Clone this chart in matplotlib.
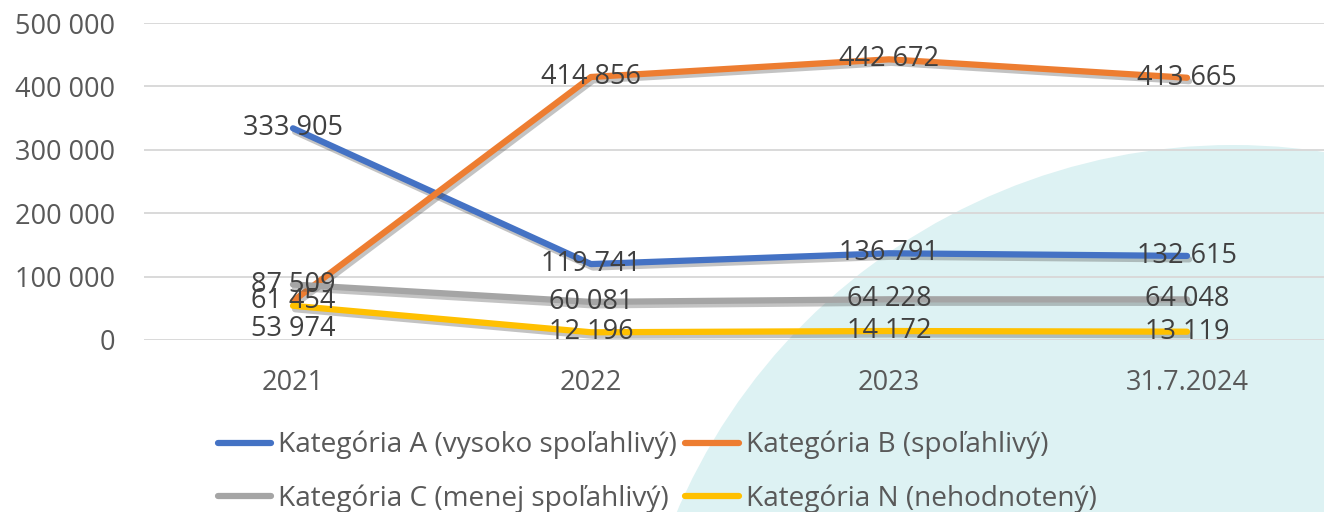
import matplotlib
matplotlib.use("Agg")
import matplotlib.pyplot as plt
import matplotlib.patheffects as pe
from matplotlib.patches import Ellipse

plt.rcParams['font.family'] = ['Open Sans', 'DejaVu Sans']

periods = ["2021", "2022", "2023", "31.7.2024"]
cat_a = [333905, 119741, 136791, 132615]
cat_b = [61454, 414856, 442672, 413665]
cat_c = [87509, 60081, 64228, 64048]
cat_n = [53974, 12196, 14172, 13119]
names = ["Kategória A (vysoko spoľahlivý)", "Kategória B (spoľahlivý)",
         "Kategória C (menej spoľahlivý)", "Kategória N (nehodnotený)"]
colors = ["#4472C4", "#ED7D31", "#A5A5A5", "#FFC000"]
series = [cat_a, cat_b, cat_c, cat_n]

W, H = 1324, 512
fig = plt.figure(figsize=(W / 100, H / 100), dpi=100)

# decorative circle in background
circ = Ellipse((1233 / W, -238 / H), 1210 / W, 1210 / H, transform=fig.transFigure,
               facecolor="#DDF2F3", edgecolor="none", zorder=-5)
fig.patches.append(circ)

ax = fig.add_axes([144 / W, 1 - 340 / H, (1336 - 144) / W, (340 - 23) / H])
ax.set_facecolor("none")
ax.set_zorder(1)
x = list(range(len(periods)))

shadow = [pe.SimpleLineShadow(offset=(1.5, -2.5), shadow_color="#555555", alpha=0.35),
          pe.Normal()]
lines = []
for vals, name, col in zip(series, names, colors):
    ln, = ax.plot(x, vals, color=col, lw=4.5, solid_capstyle="round", solid_joinstyle="round",
                  label=name, path_effects=shadow, zorder=3)
    lines.append(ln)

label_offsets = {(3, 0): -23}
for si, vals in enumerate(series):
    for i, v in enumerate(vals):
        dy = label_offsets.get((si, i), 0)
        ax.annotate(f"{v:,}".replace(",", " "), (i, v), xytext=(0, dy),
                    textcoords="offset pixels",
                    ha="center", va="center", fontsize=19.5, color="#404040", zorder=5)

ax.set_xlim(-0.5, 3.5)
ax.set_ylim(0, 500000)
ax.set_yticks(range(0, 500001, 100000))
ax.set_yticklabels([f"{v:,}".replace(",", " ") for v in range(0, 500001, 100000)])
ax.set_xticks(x)
ax.set_xticklabels(periods)
ax.tick_params(axis="both", length=0, labelsize=19.5, labelcolor="#595959")
ax.tick_params(axis="x", pad=21)
ax.tick_params(axis="y", pad=21)
ax.grid(axis="y", color="#D9D9D9", lw=1.4, zorder=1)
ax.set_axisbelow(True)
for s in ax.spines.values():
    s.set_visible(False)

order = [0, 2, 1, 3]
leg = fig.legend([lines[i] for i in order], [names[i] for i in order],
                 loc="center", bbox_to_anchor=(657 / W, 1 - 472 / H), ncol=2,
                 frameon=False, fontsize=20.2, handlelength=1.9, handletextpad=0.25,
                 columnspacing=0.3, labelspacing=0.9, borderpad=0)
for t in leg.get_texts():
    t.set_color("#595959")
for h in leg.get_lines():
    h.set_path_effects([])
    h.set_linewidth(4.5)

fig.savefig("out.png", dpi=100)
